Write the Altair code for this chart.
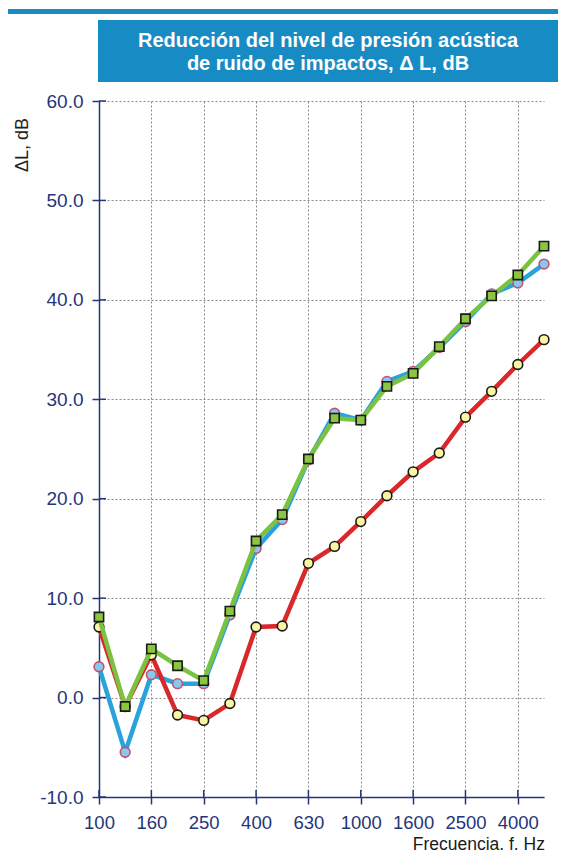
import altair as alt
import pandas as pd

# ---- data ----
freqs = ["100", "125", "160", "200", "250", "315", "400", "500", "630", "800",
         "1000", "1250", "1600", "2000", "2500", "3150", "4000", "5000"]
tick_freqs = ["100", "160", "250", "400", "630", "1000", "1600", "2500", "4000"]
y_ticks = [-10, 0, 10, 20, 30, 40, 50, 60]

blue_vals = [3.1, -5.5, 2.3, 1.4, 1.4, 8.3, 15.0, 17.9, 23.9, 28.6, 27.9, 31.8,
             32.8, 35.2, 37.8, 40.6, 41.7, 43.6]
red_vals = [7.1, -0.9, 4.3, -1.75, -2.3, -0.6, 7.1, 7.2, 13.5, 15.2, 17.7, 20.3,
            22.7, 24.6, 28.2, 30.8, 33.5, 36.0]
green_vals = [8.1, -0.9, 4.9, 3.2, 1.7, 8.7, 15.75, 18.4, 24.0, 28.1, 27.9, 31.3,
              32.6, 35.3, 38.1, 40.4, 42.5, 45.4]

title_lines = ["Reducción del nivel de presión acústica", "de ruido de impactos, Δ L, dB"]
y_title = "ΔL, dB"
x_title = "Frecuencia. f. Hz"

# ---- style ----
NAVY = "#25357a"
FRAME = "#178bc4"
FONT = "Liberation Sans"
W, H = 445, 696

x_enc = alt.X("f:O", sort=freqs,
              scale=alt.Scale(type="point", padding=0, domain=freqs),
              axis=alt.Axis(values=tick_freqs, labelAngle=0, title=None,
                            tickSize=7, tickWidth=1.5, tickColor=NAVY,
                            domainColor=NAVY, domainWidth=1.5,
                            labelColor=NAVY, labelFont=FONT, labelFontSize=18.5,
                            labelPadding=9, labelFlush=False,
                            grid=True, gridColor="#8a8a8a", gridDash=[2, 2],
                            gridWidth=1))
y_enc = alt.Y("v:Q", scale=alt.Scale(domain=[-10, 60], nice=False, zero=False),
              axis=alt.Axis(values=y_ticks, title=None,
                            labelExpr="datum.value < 0 ? '-' + format(-datum.value, '.1f') : format(datum.value, '.1f')",
                            tickSize=7, tickWidth=1.5, tickColor=NAVY,
                            domainColor=NAVY, domainWidth=1.5,
                            labelColor=NAVY, labelFont=FONT, labelFontSize=19,
                            labelPadding=9,
                            grid=True, gridColor="#8a8a8a", gridDash=[2, 2],
                            gridWidth=1))


def series(vals, line_color, shape, fill, stroke, size):
    df = pd.DataFrame({"f": freqs, "v": vals})
    base = alt.Chart(df)
    line = base.mark_line(color=line_color, strokeWidth=4.5).encode(x=x_enc, y=y_enc)
    pts = base.mark_point(shape=shape, filled=True, fill=fill, stroke=stroke,
                          strokeWidth=1.6, size=size, opacity=1).encode(x=x_enc, y=y_enc)
    return [line, pts]


# inward halves of the crossing ticks
ytick_df = pd.DataFrame({"v": y_ticks})
xtick_df = pd.DataFrame({"f": tick_freqs})
ytick_in = alt.Chart(ytick_df).mark_rule(color=NAVY, strokeWidth=1.5).encode(
    y=y_enc, x=alt.value(0), x2=alt.value(7))
xtick_in = alt.Chart(xtick_df).mark_rule(color=NAVY, strokeWidth=1.5).encode(
    x=x_enc, y=alt.value(H), y2=alt.value(H - 7))

# decorations
dummy = pd.DataFrame({"a": [0]})
frame_line = alt.Chart(dummy).mark_rect(color=FRAME).encode(
    x=alt.value(-91), x2=alt.value(459), y=alt.value(-92), y2=alt.value(-87))
title_box = alt.Chart(dummy).mark_rect(color=FRAME).encode(
    x=alt.value(-1), x2=alt.value(459), y=alt.value(-81), y2=alt.value(-19))
t1 = alt.Chart(pd.DataFrame({"t": [title_lines[0]]})).mark_text(
    color="white", font=FONT, fontSize=20, fontWeight="bold", align="center",
    baseline="alphabetic").encode(
    text="t:N", x=alt.value(229), y=alt.value(-54))
t2 = alt.Chart(pd.DataFrame({"t": [title_lines[1]]})).mark_text(
    color="white", font=FONT, fontSize=20, fontWeight="bold", align="center",
    baseline="alphabetic").encode(
    text="t:N", x=alt.value(229), y=alt.value(-31))
yt = alt.Chart(pd.DataFrame({"t": [y_title]})).mark_text(
    color="#222222", font=FONT, fontSize=18, angle=270, align="center", baseline="middle").encode(
    text="t:N", x=alt.value(-76), y=alt.value(44))
xt = alt.Chart(pd.DataFrame({"t": [x_title]})).mark_text(
    color="#1a1a1a", font=FONT, fontSize=17.5, align="right", baseline="alphabetic").encode(
    text="t:N", x=alt.value(446), y=alt.value(749))

layers = [frame_line, title_box, t1, t2, yt, xt, ytick_in, xtick_in]
layers += series(blue_vals, "#2aa2dc", "circle", "#86c9ec", "#c4506c", 95)
layers += series(red_vals, "#d8282a", "circle", "#fbf6a2", "#1a1a1a", 95)
layers += series(green_vals, "#7cc242", "square", "#8cc640", "#1a1a1a", 85)

chart = alt.layer(*layers).properties(
    width=W, height=H,
    autosize=alt.AutoSizeParams(type="none"),
    padding={"left": 91, "top": 93, "right": 14, "bottom": 57},
    background="white",
).configure_view(stroke=None)

chart.save("out.html", embed_options={"renderer": "svg", "actions": False})
